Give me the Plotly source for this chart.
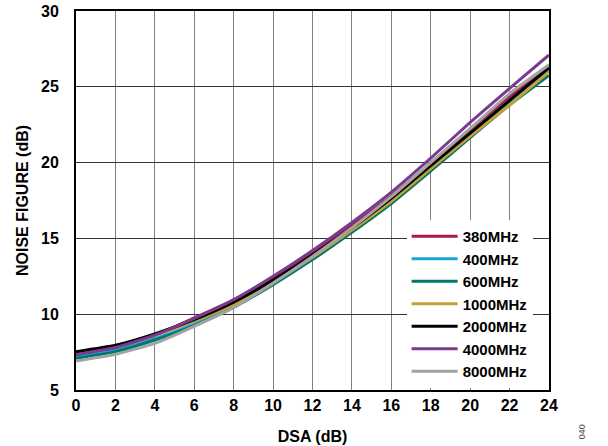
import plotly.graph_objects as go

dsa_db = [0, 2, 4, 6, 8, 10, 12, 14, 16, 18, 20, 22, 24]

nf_380mhz = [7.26, 7.75, 8.60, 9.75, 10.95, 12.40, 14.05, 15.85, 17.80, 19.95, 22.20, 24.35, 26.35]
nf_400mhz = [7.18, 7.60, 8.38, 9.35, 10.55, 12.05, 13.70, 15.50, 17.45, 19.60, 21.80, 24.00, 26.10]
nf_600mhz = [7.09, 7.53, 8.30, 9.25, 10.45, 11.95, 13.60, 15.40, 17.30, 19.45, 21.65, 23.80, 25.75]
nf_1000mhz = [7.42, 7.83, 8.60, 9.55, 10.65, 12.10, 13.75, 15.55, 17.45, 19.60, 21.75, 23.80, 26.00]
nf_2000mhz = [7.53, 7.95, 8.70, 9.65, 10.80, 12.25, 13.90, 15.70, 17.65, 19.80, 21.95, 24.10, 26.25]
nf_4000mhz = [7.33, 7.80, 8.62, 9.72, 10.95, 12.50, 14.20, 16.05, 18.05, 20.30, 22.65, 24.90, 27.10]
nf_8000mhz = [6.91, 7.35, 8.08, 9.20, 10.45, 12.05, 13.80, 15.70, 17.75, 20.00, 22.25, 24.55, 26.45]

series_names = ["380MHz", "400MHz", "600MHz", "1000MHz", "2000MHz", "4000MHz", "8000MHz"]
series_values = [nf_380mhz, nf_400mhz, nf_600mhz, nf_1000mhz, nf_2000mhz, nf_4000mhz, nf_8000mhz]
series_colors = ["#A8194F", "#1BA6DA", "#00786E", "#C9A036", "#000000", "#7A3A90", "#A3A3A3"]

x_ticks = [0, 2, 4, 6, 8, 10, 12, 14, 16, 18, 20, 22, 24]
y_ticks = [5, 10, 15, 20, 25, 30]

FONT = "Liberation Sans, Arial, Helvetica, sans-serif"

fig = go.Figure()
for name, vals, col in zip(series_names, series_values, series_colors):
    fig.add_trace(go.Scatter(
        x=dsa_db, y=vals, name=name, mode="lines",
        line=dict(color=col, width=3, shape="spline", smoothing=0.5),
    ))

fig.update_layout(
    width=608, height=446,
    margin=dict(l=76, r=59, t=11, b=56, autoexpand=False),
    paper_bgcolor="white", plot_bgcolor="white",
    font=dict(family=FONT, size=16, color="black"),
    showlegend=True,
    legend=dict(
        x=0.699, y=0.005, xanchor="left", yanchor="bottom",
        bgcolor="white", borderwidth=0,
        font=dict(family=FONT, size=15, color="black", weight="bold"),
        itemwidth=46, tracegroupgap=0,
    ),
    xaxis=dict(
        range=[0, 24], tickvals=x_ticks, ticktext=[str(v) for v in x_ticks],
        showgrid=True, gridcolor="#7f7f7f", gridwidth=1,
        showline=True, linecolor="black", linewidth=1.5, mirror=True,
        zeroline=False, ticks="", automargin=False, ticklabeloverflow="allow",
        tickfont=dict(family=FONT, size=16, color="black", weight="bold"),
        title=dict(text="DSA (dB)", standoff=18,
                   font=dict(family=FONT, size=16, color="black", weight="bold")),
    ),
    yaxis=dict(
        range=[5, 30], tickvals=y_ticks, ticktext=[str(v) for v in y_ticks],
        showgrid=True, gridcolor="#333333", gridwidth=1,
        showline=True, linecolor="black", linewidth=2, mirror=True,
        zeroline=False, ticks="", ticklabelstandoff=12, automargin=False,
        ticklabeloverflow="allow",
        tickfont=dict(family=FONT, size=16, color="black", weight="bold"),
        title=dict(text="NOISE FIGURE (dB)", standoff=8,
                   font=dict(family=FONT, size=16, color="black", weight="bold")),
    ),
    annotations=[dict(
        text="040", xref="paper", yref="paper", x=1.07, y=-0.111,
        xanchor="center", yanchor="middle", textangle=-90, showarrow=False,
        font=dict(family=FONT, size=9, color="#444444"),
    )],
)

fig.write_html(
    "out.html",
    config={"displayModeBar": False},
    post_script="document.body.style.margin='0';document.body.style.padding='0';",
)
